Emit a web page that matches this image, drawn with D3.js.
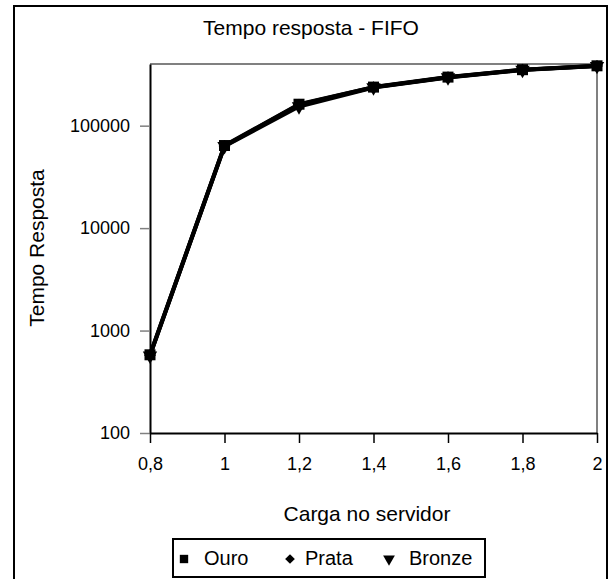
<!DOCTYPE html>
<html><head><meta charset="utf-8">
<script src="https://cdn.jsdelivr.net/npm/d3@7"></script>
<style>body{margin:0;background:#fff}svg{display:block;font-family:"Liberation Sans",Arial,sans-serif}</style>
</head><body><svg id="c" width="610" height="579"></svg>
<script>
const cargas = [0.8, 1.0, 1.2, 1.4, 1.6, 1.8, 2.0];
const ouro   = [580, 64000, 162000, 238000, 298000, 352000, 384000];
const prata  = [575, 63500, 160000, 237000, 297000, 351000, 383000];
const bronze = [570, 63000, 154000, 236000, 296000, 350000, 382000];
const xTickLabels = ["0,8","1","1,2","1,4","1,6","1,8","2"];
const yTicks = [100, 1000, 10000, 100000];
const seriesNames = ["Ouro","Prata","Bronze"];

const svg = d3.select("#c");
const L=150,R=597,T=64,B=433;
const x = d3.scaleLinear().domain([0.8,2.0]).range([L,R]);
const y = d3.scaleLog().domain([100,400000]).range([B,T]);

// outer border
svg.append("rect").attr("x",14).attr("y",6).attr("width",593).attr("height",576)
  .attr("fill","none").attr("stroke","#000").attr("stroke-width",2);

// title
svg.append("text").attr("x",311).attr("y",35).attr("text-anchor","middle")
  .attr("font-size",21).text("Tempo resposta - FIFO");

// plot frame top/right gray
svg.append("path").attr("d",`M${L},${T}H${R}V${B}`).attr("fill","none")
  .attr("stroke","#808080").attr("stroke-width",2);

// y axis
const ya = svg.append("g").attr("transform",`translate(${L},0)`)
  .call(d3.axisLeft(y).tickValues(yTicks).tickFormat(d3.format("d")).tickSizeOuter(0).tickSizeInner(10).tickPadding(10));
ya.select(".domain").attr("stroke","#000").attr("stroke-width",2);
ya.selectAll(".tick line").attr("stroke","#808080").attr("stroke-width",1.5);
ya.selectAll("text").attr("font-size",18).attr("font-family","Liberation Sans, Arial").attr("fill","#000");

// x axis
const xa = svg.append("g").attr("transform",`translate(0,${B})`)
  .call(d3.axisBottom(x).tickValues(cargas).tickFormat((d,i)=>xTickLabels[i]).tickSizeOuter(0).tickSizeInner(10).tickPadding(14));
xa.select(".domain").attr("stroke","#000").attr("stroke-width",2);
xa.selectAll(".tick line").attr("stroke","#000").attr("stroke-width",1.5);
xa.selectAll("text").attr("font-size",18).attr("font-family","Liberation Sans, Arial").attr("fill","#000");

// axis titles
svg.append("text").attr("x",367).attr("y",521).attr("text-anchor","middle")
  .attr("font-size",21).text("Carga no servidor");
svg.append("text").attr("transform","translate(44,248) rotate(-90)").attr("text-anchor","middle")
  .attr("font-size",21).text("Tempo Resposta");

// lines
const line = d3.line().x((d,i)=>x(cargas[i])).y(d=>y(d));
[bronze, prata, ouro].forEach(s=>{
  svg.append("path").datum(s).attr("d",line).attr("fill","none")
    .attr("stroke","#000").attr("stroke-width",4).attr("stroke-linejoin","round");
});

// markers
const sq = d3.symbol().type(d3.symbolSquare).size(121);
const di = d3.symbol().type(d3.symbolDiamond2).size(90);
const tri = d3.symbol().type(d3.symbolTriangle).size(90);
function drawMarkers(s, gen, rot){
  svg.append("g").selectAll("path").data(s).join("path")
    .attr("d",gen)
    .attr("transform",(d,i)=>`translate(${x(cargas[i])},${y(d)})${rot?" rotate(180)":""}`)
    .attr("fill","#000");
}
drawMarkers(bronze, tri, true);
drawMarkers(prata, di, false);
drawMarkers(ouro, sq, false);

// legend
svg.append("rect").attr("x",173).attr("y",539).attr("width",312).attr("height",38)
  .attr("fill","#fff").attr("stroke","#000").attr("stroke-width",2);
const leg = [
  {sym:d3.symbol().type(d3.symbolSquare).size(70), rot:false, mx:184, tx:204},
  {sym:d3.symbol().type(d3.symbolDiamond2).size(60), rot:false, mx:290, tx:305},
  {sym:d3.symbol().type(d3.symbolTriangle).size(60), rot:true, mx:389, tx:409}
];
leg.forEach((l,i)=>{
  svg.append("path").attr("d",l.sym()).attr("fill","#000")
    .attr("transform",`translate(${l.mx},559)${l.rot?" rotate(180)":""}`);
  svg.append("text").attr("x",l.tx).attr("y",565).attr("font-size",20).text(seriesNames[i]);
});
</script></body></html>
